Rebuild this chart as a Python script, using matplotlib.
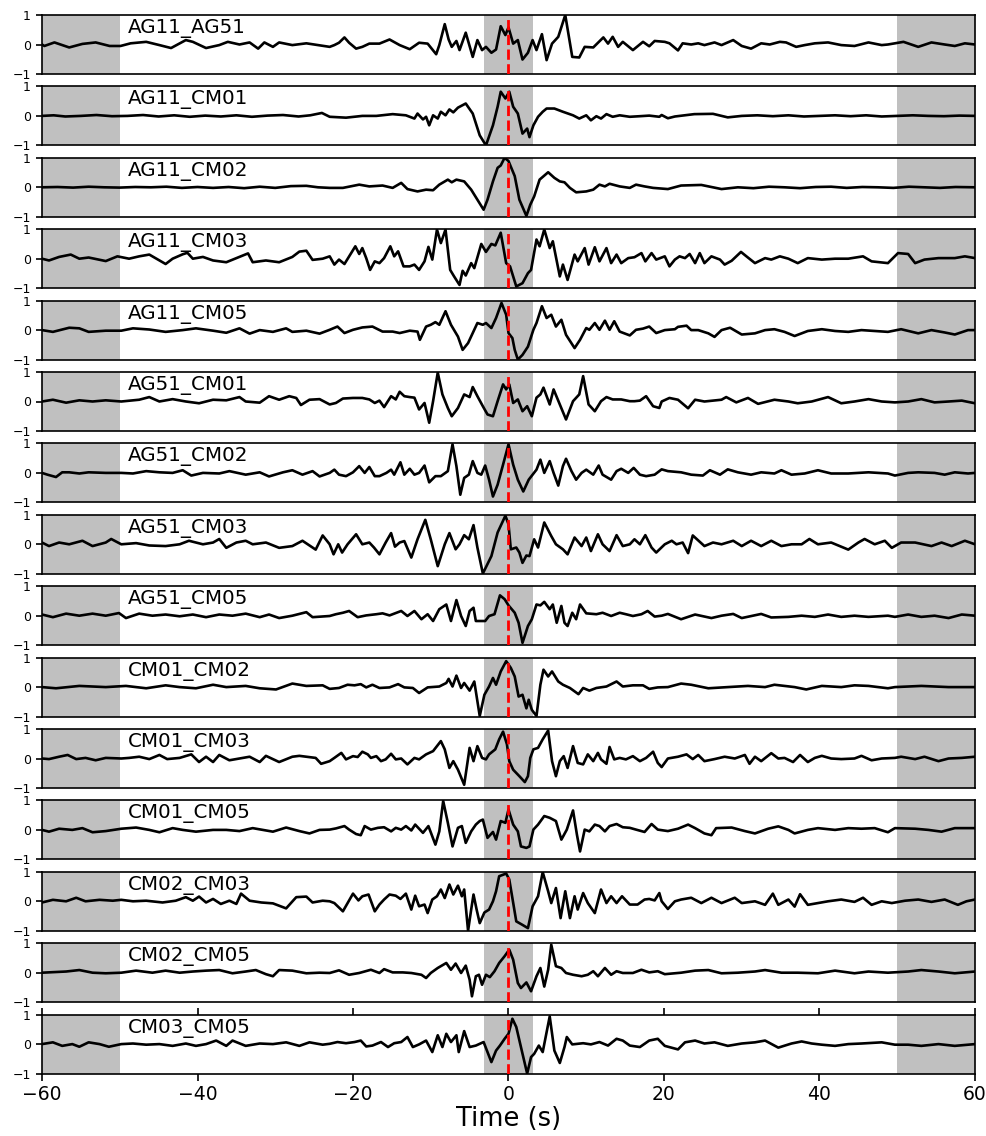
import numpy as np
import matplotlib
matplotlib.use("Agg")
import matplotlib.pyplot as plt

# normalised cross-correlation traces as (lag [s], amplitude)
ag11_ag51 = [(-60.0, 0.0), (-59.7, -0.05), (-58.4, 0.07), (-56.5, -0.1), (-54.8, 0.02), (-53.1, 0.07), (-51.3, -0.05),
             (-49.9, -0.05), (-48.6, 0.04), (-46.6, 0.09), (-44.9, -0.02), (-43.4, -0.12), (-41.5, 0.15), (-40.6, 0.09),
             (-38.9, -0.12), (-37.2, -0.02), (-36.1, 0.09), (-34.6, 0.0), (-33.3, 0.07), (-32.2, -0.14), (-31.4, 0.07),
             (-30.3, -0.08), (-29.5, 0.07), (-27.8, -0.02), (-26.0, 0.04), (-24.5, -0.02),
             (-23.0, -0.08), (-22.4, -0.02), (-21.8, 0.06), (-21.1, 0.24), (-20.5, 0.06), (-19.6, -0.14), (-18.8, -0.08),
             (-17.9, 0.03), (-16.6, 0.03), (-15.3, 0.17), (-14.0, -0.02), (-12.7, -0.16), (-11.5, 0.06), (-10.4, 0.03),
             (-9.3, -0.33), (-8.9, -0.02), (-8.2, 0.69), (-7.7, 0.17), (-7.3, -0.08), (-6.7, 0.12), (-6.3, -0.19),
             (-5.5, 0.40), (-4.6, -0.42), (-4.0, 0.15), (-3.4, -0.19), (-2.9, -0.08), (-2.2, -0.28), (-1.6, -0.17),
             (-1.0, 0.62), (-0.4, 0.32), (0.0, 0.58), (0.6, 0.03), (1.2, 0.15), (1.8, -0.51), (2.5, -0.28), (3.1, 0.15),
             (3.6, -0.19), (4.3, 0.35), (4.9, -0.53), (5.6, 0.03), (6.4, 0.26), (7.3, 1.0), (8.2, -0.42), (9.1, -0.44),
             (9.8, -0.08), (10.9, -0.1), (12.2, 0.24), (12.8, 0.03), (13.4, 0.26), (14.1, -0.08), (14.7, 0.09),
             (16.0, -0.19), (17.3, 0.09), (18.1, -0.06), (18.8, 0.12),
             (20.1, 0.09), (20.7, 0.04), (21.8, -0.2), (22.4, 0.04), (23.5, 0.0), (24.4, 0.04), (25.2, -0.02), (26.5, 0.07),
             (27.4, -0.02), (28.9, 0.15), (30.0, -0.05), (31.2, -0.14), (32.5, 0.04), (33.6, 0.0), (34.9, 0.09),
             (35.7, 0.07), (37.0, -0.08), (38.1, -0.02), (39.4, 0.04), (41.1, 0.07), (42.8, -0.02), (44.5, -0.05),
             (46.3, 0.07), (48.0, -0.02), (48.8, 0.0), (49.7, 0.04), (50.8, 0.09), (52.7, -0.08), (54.4, 0.07),
             (56.1, 0.0), (57.4, -0.05), (58.7, 0.04), (60.0, 0.0)]

ag11_cm01 = [(-60.0, 0.0), (-58.5, 0.02), (-57.0, -0.02), (-55.0, 0.0), (-53.0, 0.03), (-51.0, -0.01), (-49.0, 0.0),
             (-47.0, 0.03), (-45.0, -0.02), (-43.0, 0.02), (-41.0, -0.03), (-39.0, 0.01), (-37.0, -0.02), (-35.0, 0.02),
             (-33.0, -0.03), (-31.0, 0.01), (-29.0, 0.03), (-27.0, -0.02), (-25.5, 0.02), (-24.0, 0.1),
             (-23.0, -0.03), (-20.9, -0.06), (-18.8, 0.0), (-17.0, 0.0), (-14.9, 0.06), (-13.2, 0.02), (-12.1, -0.09),
             (-11.7, 0.08), (-11.0, -0.12), (-10.6, -0.03), (-10.2, -0.32), (-9.7, 0.02), (-9.1, -0.09), (-8.7, 0.14),
             (-8.1, 0.02), (-7.6, 0.22), (-7.1, 0.12), (-6.5, 0.28), (-5.5, 0.42), (-4.6, 0.08), (-3.7, -0.66),
             (-2.9, -1.0), (-2.0, -0.32), (-1.4, 0.31), (-1.0, 0.82), (-0.4, 0.59), (0.1, 0.82), (0.6, 0.31),
             (1.2, 0.08), (1.8, -0.6), (2.4, -0.43), (2.7, -0.72), (3.2, -0.32), (3.8, -0.03), (4.4, 0.14), (4.9, 0.25),
             (5.9, 0.25), (7.0, 0.14), (8.3, 0.02), (9.1, -0.09), (10.0, 0.02), (10.6, -0.15), (11.3, -0.01),
             (11.9, -0.09), (12.6, 0.06), (13.4, -0.03), (14.3, 0.02), (15.6, -0.03), (16.9, -0.01), (18.1, 0.01),
             (19.4, -0.03),
             (19.7, 0.03), (20.5, -0.08), (21.4, -0.02), (23.9, 0.06), (26.3, 0.07), (28.2, -0.05), (30.0, 0.0),
             (32.0, 0.02), (34.0, -0.01), (36.0, 0.02), (38.0, -0.02), (40.0, 0.0), (42.0, 0.02), (44.0, -0.01),
             (46.0, 0.02), (48.0, -0.02), (50.0, 0.0), (52.0, 0.02), (54.0, 0.0), (56.0, -0.01), (58.0, 0.01), (60.0, 0.0)]

ag11_cm02 = [(-60.0, 0.0), (-58.0, 0.01), (-56.0, -0.01), (-54.0, 0.02), (-52.0, 0.0), (-50.0, -0.01), (-48.0, 0.01),
             (-46.0, 0.0), (-44.0, 0.02), (-42.0, -0.02), (-40.0, 0.01), (-38.0, -0.02), (-36.0, 0.01), (-34.0, -0.03),
             (-32.0, 0.02), (-30.0, -0.02), (-28.0, 0.04), (-26.0, 0.05), (-24.5, 0.0),
             (-23.0, -0.02), (-21.3, -0.02), (-19.2, 0.09), (-17.9, 0.03), (-16.2, 0.06), (-14.9, -0.02), (-13.8, 0.15),
             (-13.0, -0.06), (-11.7, -0.14), (-10.6, -0.08), (-9.7, -0.1), (-8.9, 0.09), (-7.8, 0.26), (-7.3, 0.17),
             (-6.7, 0.26), (-5.7, 0.2), (-4.8, -0.08), (-4.0, -0.42), (-3.2, -0.76), (-2.7, -0.42), (-2.0, 0.2),
             (-1.4, 0.66), (-1.0, 0.74), (-0.5, 1.0), (0.0, 0.89), (0.8, 0.38), (1.4, -0.42), (2.3, -0.97),
             (2.8, -0.59), (3.3, -0.31), (4.0, 0.26), (5.1, 0.51), (5.9, 0.32), (6.6, 0.2), (7.2, 0.17), (7.9, -0.02),
             (8.7, -0.17), (10.0, -0.14), (10.9, -0.08), (11.7, 0.09), (12.4, 0.03), (13.0, 0.12), (14.3, 0.03),
             (15.6, -0.02), (16.4, 0.09), (17.5, 0.03), (18.6, -0.02),
             (20.5, -0.06), (22.2, 0.06), (24.8, 0.08), (27.4, -0.06), (29.5, 0.0), (31.5, -0.03), (33.5, 0.02),
             (35.5, 0.0), (37.5, -0.03), (39.5, 0.01), (41.5, 0.02), (43.5, -0.02), (45.5, 0.01), (47.5, 0.0),
             (49.5, -0.02), (51.5, 0.02), (53.5, 0.0), (55.5, -0.02), (57.5, 0.01), (60.0, 0.0)]

ag11_cm03 = [(-60.0, 0.0), (-59.1, -0.06), (-57.8, 0.06), (-56.3, 0.14), (-55.2, 0.0), (-54.0, 0.04), (-51.8, -0.08),
             (-50.3, 0.08), (-48.8, 0.0), (-47.5, 0.08), (-46.2, 0.14), (-44.1, -0.18), (-43.2, 0.0), (-41.9, 0.15),
             (-41.3, 0.2), (-40.6, 0.0), (-39.3, 0.06), (-38.0, -0.06), (-36.3, -0.12), (-34.6, 0.06), (-33.5, 0.18),
             (-32.9, -0.12), (-31.2, -0.06), (-29.5, -0.12), (-27.8, 0.06), (-26.9, 0.24), (-26.0, 0.27),
             (-25.2, -0.04), (-23.9, 0.0),
             (-23.0, 0.08), (-22.4, -0.2), (-21.8, -0.03), (-21.1, -0.18), (-20.5, 0.08), (-19.7, 0.42), (-19.2, 0.16),
             (-18.8, 0.36), (-18.3, 0.02), (-17.8, -0.38), (-17.2, -0.09), (-16.6, -0.15), (-16.0, 0.02), (-15.2, 0.42),
             (-14.7, 0.08), (-14.2, 0.25), (-13.5, -0.26), (-12.7, -0.26), (-12.1, -0.2), (-11.5, -0.38),
             (-10.8, -0.09), (-10.3, 0.4), (-9.8, -0.03), (-9.2, 0.99), (-8.7, 0.53), (-8.1, 0.99), (-7.5, -0.38),
             (-7.0, -0.6), (-6.3, -0.89), (-5.9, -0.41), (-5.5, -0.57), (-4.8, -0.15), (-4.4, -0.32), (-3.5, 0.5),
             (-2.9, 0.23), (-2.2, 0.5), (-1.7, 0.45), (-1.0, 0.88), (-0.3, -0.15), (0.2, -0.26), (1.0, -0.94),
             (1.8, -0.83), (2.5, -0.49), (2.9, -0.38), (3.6, 0.65), (4.0, 0.42), (4.6, 0.99), (5.3, 0.36), (5.7, 0.59),
             (6.6, -0.6), (7.0, -0.2), (7.6, -0.72), (8.5, 0.14), (8.9, -0.09), (9.8, 0.36), (10.3, -0.2), (11.1, 0.39),
             (11.7, -0.09), (12.6, 0.36), (13.2, -0.15), (13.9, 0.14), (14.5, -0.15), (15.4, 0.02), (16.2, 0.05),
             (17.1, 0.19), (17.6, -0.09), (18.4, 0.19), (19.0, -0.03),
             (20.1, 0.08), (20.7, -0.26), (21.4, -0.03), (22.0, 0.08), (22.7, 0.02), (23.3, 0.16), (24.0, -0.15),
             (24.6, 0.19), (25.2, -0.15), (26.1, 0.08), (27.2, -0.03), (27.8, -0.2), (28.7, -0.07), (29.9, 0.23),
             (30.6, 0.08), (31.7, -0.15), (33.0, 0.02), (33.8, -0.03), (34.9, 0.08), (36.0, 0.0), (37.2, -0.15),
             (38.5, 0.02), (40.3, -0.03), (42.0, 0.0), (43.7, 0.0), (45.6, 0.08), (46.7, -0.09), (48.8, -0.15),
             (50.1, 0.19), (51.4, 0.16), (52.3, -0.15), (53.5, -0.03), (55.3, 0.02), (57.4, 0.02), (58.7, 0.08),
             (60.0, 0.02)]

ag11_cm05 = [(-60.0, 0.0), (-58.6, -0.06), (-56.5, 0.08), (-55.2, 0.06), (-54.0, -0.06), (-51.8, -0.02), (-49.8, -0.02),
             (-48.3, 0.06), (-46.2, 0.02), (-44.1, -0.06), (-41.9, 0.0), (-40.2, 0.06), (-38.0, -0.02), (-36.3, -0.09),
             (-34.6, 0.06), (-33.3, -0.12), (-32.0, 0.0), (-30.3, -0.06), (-28.6, 0.06), (-27.8, -0.06), (-26.0, -0.02),
             (-24.3, -0.12),
             (-23.0, 0.01), (-22.0, 0.12), (-21.1, -0.1), (-20.0, 0.01), (-18.8, 0.09), (-17.5, 0.12), (-16.2, -0.05),
             (-14.9, -0.05), (-14.0, -0.1), (-12.7, -0.02), (-11.7, -0.05), (-11.4, -0.33), (-10.6, 0.12), (-10.0, 0.18),
             (-9.4, 0.27), (-8.9, 0.18), (-8.1, 0.64), (-7.4, 0.18), (-6.5, -0.22), (-5.9, -0.67), (-5.2, -0.44),
             (-4.6, -0.1), (-4.0, 0.24), (-3.3, 0.18), (-2.9, 0.24), (-2.2, 0.07), (-1.6, 0.41), (-0.9, 0.92),
             (-0.3, 0.52), (0.0, -0.1), (0.5, -0.27), (0.8, -0.67), (1.2, -1.0), (1.8, -0.84), (2.5, -0.56), (3.2, 0.01),
             (3.6, 0.24), (4.3, 0.81), (4.9, 0.41), (5.5, 0.52), (6.1, 0.12), (6.8, 0.35), (7.4, -0.16), (8.5, -0.61),
             (9.2, -0.33), (10.0, 0.07), (10.4, 0.01), (11.1, 0.24), (11.7, 0.01), (12.4, 0.32), (13.0, 0.01),
             (13.6, 0.3), (14.3, -0.05), (15.6, -0.18), (16.4, 0.01), (17.3, 0.05), (18.1, 0.12), (19.0, -0.1),
             (20.1, 0.0), (21.4, 0.03), (21.8, 0.11), (22.9, 0.15), (23.5, 0.0), (24.4, 0.0), (25.7, -0.11),
             (26.5, -0.23), (27.4, 0.0), (28.5, 0.08), (30.0, -0.15), (31.7, -0.11), (33.0, 0.0), (34.2, 0.03),
             (35.5, -0.06), (36.8, -0.2), (38.5, -0.03), (40.3, 0.03), (42.0, -0.03), (43.7, -0.06), (45.4, 0.0),
             (47.1, -0.03), (48.8, -0.06), (50.5, 0.03), (52.7, -0.11), (54.4, 0.0), (56.1, -0.08), (57.4, -0.15),
             (59.1, 0.0), (60.0, 0.0)]

ag51_cm01 = [(-60.0, 0.0), (-58.6, 0.06), (-56.9, -0.04), (-55.2, 0.04), (-53.5, 0.0), (-51.8, 0.04), (-49.8, 0.0),
             (-47.5, 0.06), (-46.2, 0.15), (-44.9, 0.0), (-43.2, 0.08), (-41.5, 0.0), (-39.8, -0.06), (-38.0, 0.06),
             (-36.3, 0.04), (-34.6, 0.15), (-33.8, 0.0), (-32.0, -0.04), (-30.8, 0.18), (-29.5, 0.06), (-28.2, 0.18),
             (-27.3, 0.12), (-26.7, -0.12), (-25.6, 0.06), (-24.3, 0.08),
             (-23.0, -0.1), (-22.2, -0.05), (-21.3, 0.1), (-20.0, 0.12), (-18.8, 0.12), (-17.9, 0.07), (-17.2, -0.05),
             (-16.6, 0.03), (-16.0, -0.19), (-15.1, 0.18), (-14.5, 0.07), (-14.0, 0.33), (-13.4, 0.18), (-12.7, 0.15),
             (-12.1, 0.13), (-11.5, -0.27), (-10.8, -0.05), (-10.2, -0.72), (-9.7, 0.01), (-9.1, 0.98), (-8.5, 0.24),
             (-7.8, -0.22), (-7.3, -0.5), (-6.5, -0.22), (-5.7, 0.24), (-5.0, 0.15), (-4.6, 0.49), (-4.0, 0.18),
             (-3.3, -0.16), (-2.7, -0.44), (-2.0, -0.5), (-1.4, 0.01), (-0.7, 0.58), (-0.3, 0.41), (0.1, 0.58),
             (0.6, -0.05), (1.2, 0.07), (1.8, -0.33), (2.4, -0.16), (3.0, -0.5), (3.6, 0.13), (4.1, 0.24), (4.5, 0.47),
             (5.3, -0.1), (5.8, 0.41), (6.6, -0.1), (7.4, -0.61), (8.3, 0.01), (9.1, 0.24), (9.6, 0.86), (10.3, -0.1),
             (11.1, -0.33), (11.9, 0.01), (12.6, 0.15), (13.4, 0.07), (14.5, 0.07), (15.6, 0.01), (16.2, 0.01),
             (16.9, 0.03), (17.7, 0.18), (18.6, -0.16), (19.4, -0.22),
             (19.7, 0.0), (20.7, 0.12), (21.8, 0.06), (23.1, -0.23), (24.0, 0.06), (25.2, 0.0), (27.4, 0.06),
             (28.0, 0.15), (29.3, -0.03), (30.8, 0.12), (32.1, -0.08), (34.2, 0.06), (36.0, 0.0), (37.2, -0.06),
             (39.0, 0.0), (41.1, 0.15), (42.8, -0.06), (44.5, 0.0), (46.3, 0.08), (48.0, 0.0), (49.7, -0.03),
             (51.4, 0.0), (53.1, 0.08), (54.8, -0.03), (56.6, 0.0), (58.3, 0.03), (60.0, -0.06)]

ag51_cm02 = [(-60.0, 0.0), (-59.3, -0.06), (-58.2, -0.14), (-57.4, 0.02), (-56.5, 0.02), (-55.2, -0.02), (-54.0, 0.02),
             (-51.8, 0.0), (-49.8, 0.0), (-48.3, -0.02), (-46.6, 0.06), (-44.9, 0.02), (-43.2, 0.0), (-41.9, 0.09),
             (-40.8, -0.09), (-39.3, 0.0), (-37.2, -0.02), (-35.9, 0.06), (-33.8, -0.06), (-32.0, 0.02), (-30.8, -0.12),
             (-29.0, 0.02), (-27.8, 0.09), (-26.5, -0.06), (-25.2, 0.06), (-24.3, -0.12),
             (-23.0, 0.0), (-22.4, 0.11), (-21.8, -0.06), (-20.9, -0.11), (-20.0, 0.02), (-19.2, 0.23), (-18.5, 0.0),
             (-17.9, 0.2), (-17.2, -0.11), (-16.6, -0.11), (-15.7, 0.0), (-15.1, 0.11), (-14.7, -0.06), (-13.9, 0.36),
             (-13.4, -0.06), (-12.7, 0.14), (-12.1, -0.06), (-11.5, 0.0), (-10.8, 0.25), (-10.2, -0.32), (-9.4, -0.11),
             (-8.7, -0.11), (-7.8, 0.06), (-7.2, 0.97), (-6.7, 0.23), (-6.2, -0.74), (-5.7, -0.17), (-5.1, -0.06),
             (-4.6, 0.4), (-4.0, 0.0), (-3.5, -0.06), (-3.0, 0.25), (-2.5, -0.23), (-2.0, -0.8), (-1.4, -0.4),
             (-0.7, 0.28), (0.0, 0.97), (0.6, 0.28), (1.2, -0.23), (1.9, -0.63), (2.6, -0.23), (3.1, -0.06), (3.6, 0.11),
             (4.1, 0.45), (4.6, 0.0), (5.3, 0.4), (5.8, 0.0), (6.4, -0.43), (7.0, 0.23), (7.4, 0.48), (8.1, 0.06),
             (8.7, -0.23), (9.4, 0.0), (10.0, 0.11), (10.9, -0.06), (11.6, 0.25), (12.1, -0.06), (13.2, -0.23),
             (13.9, 0.06), (14.5, 0.14), (15.4, 0.0), (16.1, 0.17), (16.9, -0.06), (17.7, -0.11), (18.8, -0.06),
             (19.4, 0.06),
             (19.7, 0.12), (20.5, 0.06), (22.2, 0.02), (23.5, -0.06), (25.0, -0.09), (25.9, 0.09), (27.2, -0.06),
             (28.2, 0.12), (29.5, 0.02), (31.2, -0.06), (32.5, 0.02), (34.2, -0.02), (35.1, 0.09), (36.4, -0.06),
             (38.1, -0.02), (39.8, 0.09), (41.5, -0.02), (43.7, -0.02), (46.3, 0.02), (48.8, -0.02), (49.7, -0.09),
             (51.4, 0.0), (52.7, 0.02), (54.8, 0.0), (56.1, -0.06), (57.4, 0.02), (59.1, -0.02), (60.0, 0.0)]

ag51_cm03 = [(-60.0, 0.06), (-59.1, -0.06), (-57.8, 0.06), (-56.5, 0.0), (-54.8, 0.12), (-53.5, -0.06), (-51.8, 0.06),
             (-51.1, 0.18), (-49.8, 0.0), (-47.9, 0.04), (-46.2, -0.04), (-44.1, -0.06), (-42.3, 0.0), (-41.1, 0.12),
             (-39.3, 0.0), (-38.0, 0.06), (-37.2, 0.18), (-36.3, -0.12), (-35.0, 0.06), (-33.8, 0.12), (-32.9, 0.0),
             (-31.2, 0.06), (-29.5, -0.12), (-27.8, -0.06), (-26.5, 0.12), (-24.8, -0.18), (-23.9, 0.3),
             (-23.0, 0.0), (-22.5, -0.34), (-21.9, 0.0), (-21.4, -0.28), (-20.7, 0.0), (-19.6, 0.34), (-18.8, 0.0),
             (-17.9, 0.06), (-17.3, -0.11), (-16.6, -0.34), (-15.8, 0.06), (-15.1, 0.38), (-14.6, -0.08), (-14.0, 0.06),
             (-13.4, 0.11), (-12.5, -0.45), (-11.7, 0.17), (-10.7, 0.83), (-10.0, 0.17), (-9.1, -0.74), (-8.2, 0.0),
             (-7.6, 0.38), (-6.8, -0.17), (-6.3, 0.0), (-5.7, 0.31), (-5.1, 0.17), (-4.5, 0.65), (-4.0, -0.11),
             (-3.3, -0.99), (-2.2, -0.4), (-1.4, 0.4), (-0.4, 0.97), (0.0, 0.68), (0.3, -0.17), (1.0, -0.11),
             (1.4, -0.28), (1.8, -0.63), (2.3, -0.38), (2.7, -0.4), (3.3, 0.17), (3.8, -0.11), (4.6, 0.74), (5.5, 0.28),
             (6.1, 0.0), (7.0, -0.17), (7.6, -0.34), (8.5, 0.23), (9.4, -0.06), (10.0, 0.23), (10.6, -0.23),
             (11.5, 0.34), (12.1, 0.0), (13.0, -0.23), (13.9, 0.31), (14.7, -0.06), (15.6, 0.0), (16.2, 0.17),
             (16.9, 0.0), (17.6, 0.31), (18.4, -0.11), (19.0, -0.28),
             (20.1, 0.0), (21.0, 0.12), (21.6, 0.0), (22.4, 0.06), (23.1, -0.3), (23.7, 0.3), (25.2, -0.06),
             (26.3, 0.06), (27.4, 0.0), (28.9, 0.12), (30.0, -0.06), (31.2, 0.12), (32.5, -0.06), (33.8, 0.12),
             (35.1, -0.06), (36.4, 0.0), (37.7, 0.0), (38.7, 0.18), (39.8, 0.0), (41.5, 0.06), (43.7, -0.18),
             (45.0, 0.06), (45.8, 0.18), (47.1, 0.0), (48.4, 0.12), (49.3, -0.12), (50.5, 0.06), (52.3, 0.06),
             (54.4, -0.06), (55.7, 0.06), (57.0, -0.06), (58.7, 0.12), (60.0, 0.0)]

ag51_cm05 = [(-60.0, 0.04), (-58.6, -0.05), (-56.9, 0.07), (-55.2, 0.0), (-53.5, 0.07), (-51.8, 0.0), (-50.1, 0.09),
             (-49.2, -0.08), (-47.5, 0.07), (-45.8, 0.0), (-44.1, 0.04), (-42.3, -0.02), (-40.6, 0.04), (-38.9, -0.05),
             (-37.2, 0.04), (-35.5, 0.0), (-33.8, 0.07), (-32.0, -0.05), (-30.8, 0.04), (-29.5, -0.08), (-27.8, 0.0),
             (-26.0, 0.12), (-25.2, -0.05),
             (-23.0, -0.01), (-22.2, 0.05), (-21.3, 0.1), (-20.5, 0.16), (-19.4, -0.05), (-18.3, 0.01), (-17.0, 0.05),
             (-16.2, 0.08), (-15.3, 0.01), (-13.8, 0.16), (-13.0, -0.01), (-12.1, 0.16), (-11.2, -0.12), (-10.4, 0.05),
             (-9.7, -0.18), (-8.9, 0.22), (-8.0, 0.38), (-7.4, -0.18), (-6.7, 0.53), (-6.1, -0.01), (-5.5, -0.35),
             (-5.0, 0.16), (-4.5, 0.27), (-4.2, -0.18), (-3.5, -0.18), (-3.0, -0.18), (-2.5, -0.01), (-1.8, 0.05),
             (-1.1, 0.69), (-0.5, 0.56), (0.0, 0.35), (0.8, 0.1), (1.3, -0.24), (1.8, -0.92), (2.5, -0.35),
             (3.0, -0.12), (3.6, 0.38), (4.1, 0.35), (4.6, 0.47), (5.3, 0.22), (5.7, 0.38), (6.2, -0.24), (6.8, 0.33),
             (7.2, -0.24), (7.6, -0.35), (8.2, 0.1), (8.7, -0.12), (9.2, 0.38), (10.0, 0.08), (11.3, 0.05), (12.1, 0.1),
             (13.2, -0.01), (14.3, 0.1), (15.1, 0.05), (16.0, -0.01), (17.1, 0.05), (17.9, 0.16), (18.8, -0.03),
             (19.7, 0.0), (20.5, 0.06), (22.2, -0.12), (24.0, 0.04), (26.1, -0.08), (27.4, 0.0), (28.9, 0.06),
             (30.0, -0.08), (32.5, 0.06), (33.8, -0.06), (36.0, -0.04), (37.7, 0.0), (39.4, -0.04), (41.1, 0.04),
             (42.8, -0.04), (44.5, 0.0), (46.3, -0.04), (48.8, 0.0), (49.7, -0.04), (51.4, 0.04), (53.1, -0.04),
             (54.8, 0.0), (56.6, -0.08), (58.3, 0.04), (60.0, 0.0)]

cm01_cm02 = [(-60.0, 0.0), (-58.2, -0.04), (-55.2, 0.04), (-51.8, 0.0), (-49.2, 0.04), (-46.6, -0.04), (-44.1, 0.06),
             (-42.3, 0.0), (-40.2, -0.04), (-38.0, 0.08), (-36.3, 0.0), (-33.8, 0.04), (-32.0, -0.04), (-29.9, -0.08),
             (-27.8, 0.12), (-26.0, 0.04), (-23.9, 0.06),
             (-23.0, -0.06), (-21.8, -0.03), (-20.7, 0.08), (-19.8, 0.06), (-19.0, 0.1), (-18.3, -0.01), (-17.5, 0.08),
             (-16.6, -0.03), (-15.3, -0.01), (-14.2, 0.1), (-13.4, -0.01), (-12.3, -0.03), (-11.5, -0.2),
             (-10.4, -0.01), (-8.9, 0.02), (-8.0, 0.14), (-7.7, 0.28), (-7.2, 0.02), (-6.7, 0.39), (-6.1, -0.03),
             (-5.7, 0.14), (-5.0, -0.12), (-4.4, 0.19), (-3.7, -0.98), (-3.1, -0.26), (-2.5, 0.02), (-2.0, 0.31),
             (-1.6, 0.08), (-1.0, 0.53), (-0.3, 0.88), (0.3, 0.65), (0.8, 0.36), (1.3, -0.32), (1.8, -0.26),
             (2.3, -0.72), (2.6, -0.43), (3.0, -0.77), (3.6, -0.98), (4.1, 0.08), (4.5, 0.59), (5.1, 0.36), (5.6, 0.53),
             (6.4, 0.19), (7.0, 0.08), (7.9, -0.03), (9.0, -0.24), (9.6, -0.03), (10.4, -0.12), (11.3, -0.03),
             (12.6, 0.02), (13.9, 0.19), (14.7, 0.02), (16.0, 0.06), (17.3, 0.06), (18.1, -0.06), (19.2, -0.01),
             (20.5, 0.0), (22.2, 0.12), (23.5, 0.08), (25.7, -0.04), (28.2, 0.0), (30.8, 0.04), (33.0, 0.0),
             (34.2, 0.08), (36.8, 0.0), (38.3, -0.08), (40.3, 0.04), (42.8, 0.0), (44.5, 0.06), (46.3, 0.04),
             (48.8, -0.04), (49.7, 0.0), (53.1, 0.04), (56.6, 0.0), (60.0, 0.0)]

cm01_cm03 = [(-60.0, 0.0), (-59.1, -0.02), (-57.8, 0.06), (-56.7, 0.12), (-55.6, -0.02), (-54.4, 0.02), (-53.1, -0.06),
             (-51.8, 0.02), (-49.8, 0.0), (-48.8, 0.02), (-47.5, 0.06), (-46.2, -0.02), (-44.9, 0.12), (-43.9, -0.02),
             (-42.3, 0.02), (-40.8, 0.14), (-39.8, -0.12), (-38.9, 0.06), (-38.0, -0.12), (-37.2, 0.12),
             (-35.9, -0.06), (-34.6, 0.0), (-33.3, 0.06), (-32.0, -0.12), (-31.2, 0.09), (-29.5, -0.12), (-27.8, 0.06),
             (-26.9, 0.09), (-26.0, 0.06), (-24.8, 0.02), (-24.1, -0.18),
             (-23.0, -0.09), (-22.4, 0.02), (-21.5, 0.19), (-20.9, -0.03), (-20.0, 0.08), (-19.4, 0.05), (-18.8, 0.23),
             (-18.1, 0.14), (-17.7, 0.02), (-17.0, 0.08), (-16.4, -0.09), (-15.8, -0.03), (-15.1, 0.16), (-14.5, -0.03),
             (-13.8, 0.0), (-13.0, -0.2), (-12.1, 0.02), (-11.5, -0.03), (-10.6, 0.14), (-9.7, 0.25), (-8.7, 0.59),
             (-8.2, 0.31), (-7.6, -0.32), (-7.1, -0.09), (-6.5, -0.38), (-5.7, -0.89), (-5.0, 0.36), (-4.5, -0.09),
             (-4.0, 0.42), (-3.4, 0.02), (-2.9, -0.03), (-2.5, 0.14), (-1.7, 0.31), (-1.2, 0.65), (-0.7, 0.91),
             (-0.2, 0.48), (0.1, -0.09), (0.6, -0.38), (1.4, -0.6), (2.1, -0.8), (2.5, -0.6), (2.8, 0.02), (3.2, 0.31),
             (3.8, 0.36), (4.4, 0.65), (5.1, 0.95), (5.6, -0.09), (6.1, -0.6), (6.6, -0.09), (7.1, 0.08), (7.6, -0.32),
             (8.3, 0.42), (8.9, -0.15), (9.6, -0.2), (10.2, 0.14), (10.9, -0.09), (11.5, 0.19), (11.9, -0.03),
             (12.6, -0.18), (13.0, 0.39), (13.6, -0.03), (14.3, 0.02), (15.1, -0.03), (16.0, 0.08), (16.9, -0.09),
             (17.7, 0.02), (18.6, 0.23), (19.2, -0.15),
             (19.7, -0.29), (20.5, 0.0), (21.8, 0.06), (22.9, 0.14), (23.7, -0.02), (24.4, 0.12), (25.2, -0.09),
             (26.5, -0.02), (27.8, 0.06), (29.1, 0.0), (30.4, 0.12), (31.0, -0.18), (31.7, 0.06), (32.5, -0.09),
             (33.8, 0.18), (34.7, 0.0), (35.5, 0.02), (36.6, -0.12), (37.5, 0.12), (38.5, -0.12), (39.4, 0.02),
             (40.3, 0.09), (41.5, 0.0), (42.8, -0.02), (44.5, 0.0), (45.4, 0.09), (46.7, -0.06), (48.0, 0.0),
             (49.7, 0.02), (50.5, 0.06), (52.3, -0.02), (53.5, 0.06), (55.3, -0.09), (56.6, 0.0), (58.3, 0.02),
             (60.0, 0.06)]

cm01_cm05 = [(-60.0, 0.0), (-59.1, -0.06), (-57.8, 0.04), (-56.1, 0.0), (-54.8, 0.06), (-53.5, -0.08), (-51.8, -0.04),
             (-49.8, 0.04), (-47.9, 0.08), (-46.2, 0.0), (-44.9, -0.08), (-43.2, 0.06), (-41.9, 0.0), (-40.2, -0.06),
             (-38.0, 0.0), (-36.3, 0.0), (-34.6, -0.04), (-32.9, 0.06), (-31.6, 0.0), (-30.3, -0.06), (-28.6, 0.08),
             (-26.9, -0.04), (-25.6, -0.12), (-24.3, 0.0),
             (-23.0, 0.01), (-22.2, 0.05), (-21.1, 0.13), (-20.5, 0.01), (-19.6, -0.14), (-19.0, -0.18), (-18.5, 0.13),
             (-17.7, 0.01), (-16.8, 0.07), (-16.0, 0.09), (-15.1, -0.05), (-14.5, 0.07), (-13.8, 0.01), (-13.2, 0.13),
             (-12.5, -0.02), (-12.0, 0.18), (-11.0, -0.1), (-10.3, 0.13), (-9.4, -0.5), (-8.9, -0.05), (-8.4, 0.98),
             (-7.8, 0.24), (-7.2, -0.56), (-6.5, 0.07), (-6.0, 0.13), (-5.5, -0.44), (-4.8, -0.05), (-4.2, 0.18),
             (-3.7, 0.3), (-3.3, 0.35), (-2.7, -0.27), (-2.0, -0.07), (-1.6, -0.33), (-1.0, 0.3), (-0.4, 0.24),
             (0.0, 0.69), (0.6, 0.18), (1.2, -0.05), (1.6, -0.56), (2.3, -0.61), (2.7, -0.56), (3.2, 0.01), (3.8, 0.18),
             (4.6, 0.47), (5.3, 0.41), (6.1, 0.3), (6.8, -0.33), (7.5, 0.01), (8.3, 0.66), (8.8, -0.16), (9.2, -0.73),
             (9.8, 0.01), (10.4, -0.05), (11.1, 0.18), (11.7, 0.13), (12.4, -0.05), (13.0, 0.13), (13.9, 0.2),
             (14.7, 0.09), (15.6, 0.07), (16.4, 0.01), (17.5, -0.07), (18.4, 0.2), (19.2, 0.01),
             (20.5, -0.04), (21.8, 0.04), (23.1, 0.18), (24.0, 0.06), (25.2, -0.12), (26.1, -0.18), (26.7, 0.06),
             (28.7, 0.08), (30.4, -0.04), (31.7, -0.12), (33.4, 0.04), (34.7, 0.12), (36.0, 0.0), (36.8, -0.12),
             (38.5, 0.0), (39.8, 0.06), (42.0, 0.0), (43.7, 0.06), (45.4, 0.04), (47.1, 0.06), (48.8, -0.08),
             (49.7, 0.06), (52.3, 0.04), (54.0, 0.0), (55.7, -0.06), (57.4, 0.06), (60.0, 0.06)]

cm02_cm03 = [(-60.0, -0.04), (-58.6, 0.05), (-56.9, 0.0), (-55.6, 0.12), (-54.4, 0.0), (-52.6, 0.05), (-50.9, 0.02),
             (-49.8, 0.05), (-48.3, 0.0), (-46.6, 0.02), (-44.5, -0.04), (-42.8, 0.02), (-41.5, 0.14), (-40.6, 0.02),
             (-39.8, 0.16), (-38.9, -0.04), (-38.0, 0.08), (-37.0, -0.09), (-35.9, 0.02), (-35.0, -0.09), (-34.4, 0.26),
             (-33.3, 0.02), (-31.8, -0.04), (-30.3, -0.07), (-28.6, -0.24), (-27.3, 0.14), (-26.0, 0.16),
             (-25.2, -0.04), (-23.9, 0.02),
             (-23.0, 0.0), (-22.4, -0.06), (-21.3, -0.34), (-20.7, -0.06), (-20.0, 0.26), (-19.3, 0.03), (-18.8, 0.17),
             (-18.0, 0.23), (-17.2, -0.34), (-16.6, -0.11), (-16.0, 0.06), (-15.3, 0.23), (-14.5, 0.19), (-13.9, 0.08),
             (-13.2, 0.26), (-12.5, -0.28), (-12.0, 0.19), (-11.5, -0.17), (-10.8, -0.11), (-10.4, -0.4), (-9.8, 0.06),
             (-9.2, 0.17), (-8.7, 0.4), (-8.2, 0.11), (-7.6, 0.57), (-7.1, 0.23), (-6.5, 0.53), (-6.0, 0.17),
             (-5.7, 0.4), (-5.2, -1.0), (-4.8, -0.28), (-4.5, 0.23), (-4.1, -0.28), (-3.7, -0.74), (-3.1, -0.38),
             (-2.5, -0.28), (-2.0, 0.0), (-1.6, 0.34), (-1.2, 0.85), (-0.7, 0.9), (-0.3, 0.94), (0.1, 0.74),
             (0.6, -0.06), (1.0, -0.68), (1.8, -0.8), (2.5, -0.91), (3.1, -0.17), (3.8, 0.17), (4.4, 0.99), (5.1, 0.34),
             (5.5, -0.06), (6.1, 0.45), (6.7, -0.57), (7.3, 0.34), (7.9, -0.57), (8.5, 0.17), (8.9, -0.28), (9.6, 0.28),
             (10.2, -0.06), (11.1, -0.4), (11.9, 0.4), (12.6, -0.06), (13.2, 0.17), (13.9, -0.06), (14.6, 0.17),
             (15.6, -0.11), (16.6, -0.11), (17.5, 0.06), (18.1, 0.08), (18.8, 0.03), (19.4, 0.28),
             (19.7, 0.0), (20.5, -0.26), (21.4, 0.0), (22.2, 0.06), (23.5, 0.12), (24.8, -0.06), (26.1, 0.12),
             (27.4, -0.06), (29.1, 0.12), (30.0, -0.06), (31.7, 0.0), (33.0, -0.12), (34.0, 0.26), (34.7, -0.12),
             (36.0, 0.06), (36.8, -0.18), (37.5, 0.24), (38.5, -0.12), (39.8, -0.06), (41.1, 0.0), (42.8, 0.06),
             (44.5, -0.02), (45.6, 0.12), (46.7, -0.12), (48.0, 0.0), (49.3, -0.06), (51.0, 0.02), (52.7, 0.06),
             (54.4, -0.02), (56.1, 0.06), (57.8, -0.12), (58.9, 0.0), (60.0, 0.06)]

cm02_cm05 = [(-60.0, 0.0), (-56.9, 0.04), (-55.2, 0.09), (-53.5, 0.0), (-51.8, -0.02), (-49.8, 0.0), (-47.9, 0.07),
             (-45.8, 0.0), (-44.1, 0.07), (-42.3, 0.0), (-40.6, 0.04), (-38.9, 0.07), (-37.2, 0.09), (-35.5, -0.02),
             (-33.8, 0.04), (-32.5, 0.09), (-31.2, -0.05), (-30.3, -0.12), (-29.5, 0.09), (-27.8, 0.07), (-26.0, -0.02),
             (-24.3, 0.0),
             (-23.0, -0.01), (-21.8, 0.08), (-20.5, -0.07), (-19.2, -0.01), (-17.7, 0.1), (-16.6, -0.01), (-16.0, 0.12),
             (-14.9, 0.01), (-13.6, 0.01), (-12.5, -0.01), (-11.2, -0.07), (-10.6, -0.18), (-10.0, -0.01), (-9.1, 0.16),
             (-8.0, 0.33), (-7.4, 0.1), (-6.8, 0.31), (-6.1, -0.01), (-5.5, 0.24), (-5.0, -0.24), (-4.7, -0.8),
             (-4.2, -0.12), (-3.8, -0.07), (-3.4, -0.41), (-2.9, -0.07), (-2.4, -0.15), (-1.8, 0.05), (-1.2, 0.33),
             (-0.5, 0.56), (0.1, 0.78), (0.6, 0.44), (1.2, -0.35), (1.6, -0.52), (2.3, -0.33), (2.9, -0.63),
             (3.6, -0.12), (4.1, 0.16), (4.6, -0.47), (5.1, 0.1), (5.5, 0.95), (6.1, 0.22), (6.8, 0.16), (7.4, -0.01),
             (8.3, -0.07), (9.4, -0.12), (10.2, -0.07), (10.9, 0.05), (11.5, -0.12), (12.4, 0.16), (13.2, -0.07),
             (13.9, 0.05), (14.7, -0.01), (16.0, -0.01), (17.1, 0.1), (18.1, 0.01), (19.2, 0.05),
             (20.1, -0.05), (22.2, 0.0), (24.0, 0.07), (25.7, 0.09), (27.4, -0.02), (29.5, 0.0), (31.7, 0.04),
             (33.0, 0.09), (35.1, 0.0), (37.2, 0.0), (39.8, -0.02), (42.0, 0.07), (44.5, -0.02), (46.3, 0.04),
             (48.8, 0.0), (51.4, 0.04), (53.1, 0.09), (55.3, 0.04), (57.4, -0.02), (60.0, 0.04)]

cm03_cm05 = [(-60.0, 0.0), (-58.6, 0.06), (-57.4, -0.06), (-56.1, 0.0), (-55.2, -0.09), (-54.0, 0.06), (-52.6, 0.0),
             (-51.4, -0.09), (-49.8, 0.0), (-48.3, 0.02), (-46.6, -0.02), (-44.9, 0.0), (-43.2, -0.06), (-41.5, 0.02),
             (-40.2, -0.06), (-38.9, 0.0), (-37.6, 0.12), (-36.3, -0.06), (-35.5, 0.12), (-33.8, -0.06), (-32.0, 0.02),
             (-30.3, 0.0), (-28.6, 0.06), (-26.9, -0.06), (-25.6, 0.06), (-23.9, -0.02),
             (-23.0, 0.01), (-22.0, 0.07), (-20.9, 0.03), (-19.8, 0.07), (-19.0, 0.12), (-18.3, -0.08), (-17.5, -0.05),
             (-16.4, 0.07), (-15.5, -0.1), (-14.7, 0.03), (-13.8, 0.07), (-13.0, 0.24), (-12.3, -0.1), (-11.5, -0.01),
             (-10.6, 0.12), (-9.8, -0.27), (-9.1, 0.3), (-8.5, -0.1), (-8.0, 0.35), (-7.4, 0.07), (-6.7, 0.3),
             (-6.4, -0.27), (-5.7, 0.44), (-5.0, -0.1), (-4.2, -0.05), (-3.2, 0.07), (-2.2, -0.61), (-1.6, -0.22),
             (-1.1, -0.05), (-0.5, 0.18), (0.0, 0.35), (0.5, 0.86), (1.0, 0.58), (1.6, -0.1), (2.4, -1.0), (2.9, -0.44),
             (3.3, -0.33), (3.9, -0.05), (4.4, -0.27), (5.3, 0.94), (5.9, -0.22), (6.6, -0.64), (7.2, -0.1),
             (7.5, 0.24), (8.2, -0.01), (9.6, 0.03), (10.6, -0.01), (11.7, 0.07), (12.8, -0.05), (13.9, 0.18),
             (14.7, 0.12), (15.6, -0.05), (16.9, -0.1), (18.1, 0.12), (19.2, 0.18),
             (20.1, -0.06), (21.8, -0.18), (22.7, 0.06), (24.0, 0.12), (25.2, 0.02), (26.5, 0.06), (28.2, -0.06),
             (30.0, 0.02), (31.7, 0.06), (33.0, 0.12), (34.7, -0.12), (36.4, 0.02), (37.7, 0.09), (39.0, 0.02),
             (40.3, -0.02), (42.0, -0.06), (43.7, 0.0), (45.4, 0.02), (48.0, 0.06), (49.7, -0.02), (51.4, -0.02),
             (53.1, -0.06), (55.3, 0.0), (57.4, -0.06), (60.0, 0.0)]

pair_names = ["AG11_AG51", "AG11_CM01", "AG11_CM02", "AG11_CM03", "AG11_CM05",
              "AG51_CM01", "AG51_CM02", "AG51_CM03", "AG51_CM05", "CM01_CM02",
              "CM01_CM03", "CM01_CM05", "CM02_CM03", "CM02_CM05", "CM03_CM05"]
traces = [ag11_ag51, ag11_cm01, ag11_cm02, ag11_cm03, ag11_cm05,
          ag51_cm01, ag51_cm02, ag51_cm03, ag51_cm05, cm01_cm02,
          cm01_cm03, cm01_cm05, cm02_cm03, cm02_cm05, cm03_cm05]

# shaded windows: noise windows at both ends and the signal window around zero lag
noise_windows = [(-60, -50), (50, 60)]
signal_window = (-3.1, 3.1)

fig = plt.figure(figsize=(9.87, 11.36), dpi=100)

W, H = 987.0, 1136.0
left, right = 42 / W, 975 / W
top_px, step_px, h_px = 15.0, 71.4, 59.0

for i, (name, tr) in enumerate(zip(pair_names, traces)):
    y0 = 1 - (top_px + i * step_px + h_px) / H
    ax = fig.add_axes([left, y0, right - left, h_px / H])
    t = np.array([p[0] for p in tr])
    v = np.array([p[1] for p in tr])
    for a, b in noise_windows:
        ax.axvspan(a, b, color="silver", lw=0, zorder=0)
    ax.axvspan(signal_window[0], signal_window[1], color="silver", lw=0, zorder=0)
    ax.plot(t, v, color="k", lw=1.9, zorder=2)
    ax.axvline(0, color="red", ls="--", lw=2, zorder=3)
    ax.set_xlim(-60, 60)
    ax.set_ylim(-1, 1)
    ax.set_yticks([-1, 0, 1])
    ax.tick_params(axis="y", labelsize=9, length=4.5, width=1.2)
    ax.text(-49, 0.77, name, transform=ax.get_xaxis_transform(), fontsize=14.3, va="center", ha="left")
    for s in ax.spines.values():
        s.set_linewidth(1.2)
    if i < len(traces) - 1:
        ax.set_xticks([])
    else:
        ax.set_xticks([-60, -40, -20, 0, 20, 40, 60])
        ax.tick_params(axis="x", labelsize=13.5, length=5, width=1.2, top=True)
        ax.set_xlabel("Time (s)", fontsize=18.5, labelpad=1)

fig.savefig("out.png", dpi=100)
plt.close(fig)
